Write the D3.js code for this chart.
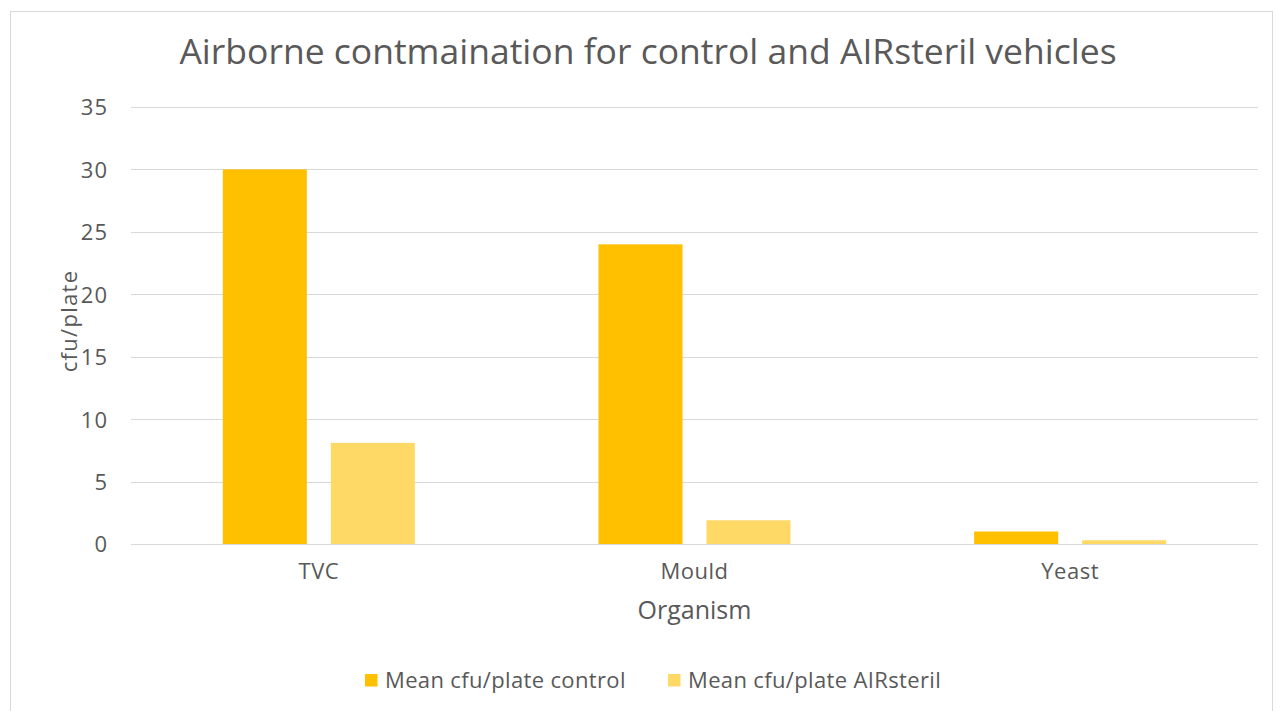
<!DOCTYPE html>
<html><head><meta charset="utf-8">
<script src="https://cdn.jsdelivr.net/npm/d3@7"></script>
<style>body{margin:0;background:#fff;}svg{display:block;font-family:"Open Sans",Lato,sans-serif;}</style>
</head><body>
<svg id="chart" width="1276" height="711"></svg>
<script>
const categories = ["TVC", "Mould", "Yeast"];
const seriesNames = ["Mean cfu/plate control", "Mean cfu/plate AIRsteril"];
const controlValues = [30, 24, 1];
const airsterilValues = [8.1, 1.9, 0.3];
const yTicks = [0, 5, 10, 15, 20, 25, 30, 35];
const colors = ["#FFC000", "#FFD966"];

const svg = d3.select("#chart");
const W = 1276, H = 711;
const m = {left:131, right:1258, top:107, bottom:544};
const textColor = "#595959";
const FONT = '"Open Sans",Lato,sans-serif';

svg.append("rect").attr("x",10.5).attr("y",11.5).attr("width",W-14).attr("height",H+10)
  .attr("fill","#fff").attr("stroke","#D9D9D9").attr("stroke-width",1);

const x0 = d3.scaleBand().domain(categories).range([m.left, m.right]).padding(0);
const x1 = d3.scaleBand().domain(seriesNames).range([0, x0.bandwidth()]).paddingInner(0.222).paddingOuter(0.85);
const y = d3.scaleLinear().domain([0,35]).range([m.bottom, m.top]);

svg.append("g").selectAll("line").data(yTicks).join("line")
  .attr("x1",m.left).attr("x2",m.right)
  .attr("y1",d=>Math.round(y(d))+0.5).attr("y2",d=>Math.round(y(d))+0.5)
  .attr("stroke","#D9D9D9").attr("stroke-width",1);

const yAxis = d3.axisLeft(y).tickValues(yTicks).tickSize(0).tickPadding(0);
const yg = svg.append("g").attr("transform",`translate(108,0)`).call(yAxis)
  .attr("font-family",FONT).attr("font-size",null);
yg.select(".domain").remove();
yg.selectAll("text").attr("fill",textColor).style("font-size","22px").style("letter-spacing","1px").attr("dy","0.36em");

const data = categories.map((c,i)=>({cat:c, vals:[controlValues[i], airsterilValues[i]]}));
const groups = svg.append("g").selectAll("g").data(data).join("g")
  .attr("transform",d=>`translate(${x0(d.cat)},0)`);
groups.selectAll("rect").data(d=>d.vals.map((v,j)=>({s:seriesNames[j], v, j}))).join("rect")
  .attr("x",d=>x1(d.s)).attr("width",x1.bandwidth())
  .attr("y",d=>y(d.v)).attr("height",d=>y(0)-y(d.v))
  .attr("fill",d=>colors[d.j]);

const xAxis = d3.axisBottom(x0).tickSize(0).tickPadding(0);
const xg = svg.append("g").attr("transform",`translate(0,${m.bottom})`).call(xAxis)
  .attr("font-family",FONT).attr("font-size",null);
xg.select(".domain").attr("stroke","#D9D9D9").attr("d",`M${m.left},0.5H${m.right}`);
xg.selectAll("text").attr("fill",textColor).style("font-size","22px").style("letter-spacing","0.5px").attr("dy",null).attr("y",35);

svg.append("text").attr("x",(m.left+m.right)/2).attr("y",619).attr("text-anchor","middle")
  .attr("fill",textColor).style("font-size","25px").text("Organism");
svg.append("text").attr("transform",`translate(77,321) rotate(-90)`).attr("text-anchor","middle")
  .attr("fill",textColor).style("font-size","22px").style("letter-spacing","1.3px").text("cfu/plate");

svg.append("text").attr("x",648).attr("y",64).attr("text-anchor","middle")
  .attr("fill",textColor).style("font-size","35.5px").text("Airborne contmaination for control and AIRsteril vehicles");

const legX = [365, 668];
const lg = svg.append("g").selectAll("g").data(seriesNames).join("g")
  .attr("transform",(d,i)=>`translate(${legX[i]},674)`);
lg.append("rect").attr("width",12.5).attr("height",12.5).attr("fill",(d,i)=>colors[i]);
lg.append("text").attr("x",20).attr("y",14).attr("fill",textColor).style("font-size","22px").style("letter-spacing","0.35px").text(d=>d);
</script>
</body></html>
